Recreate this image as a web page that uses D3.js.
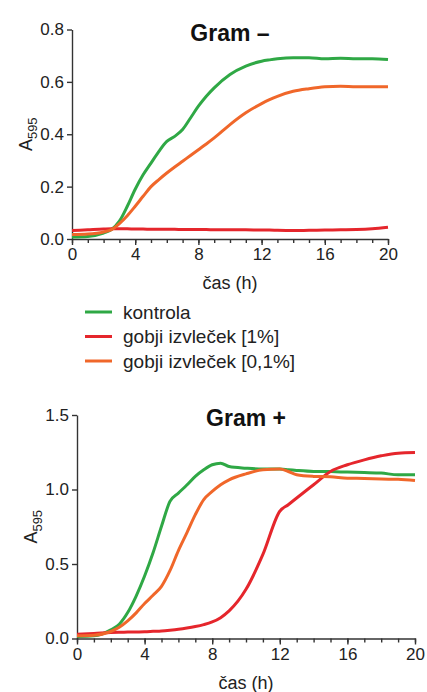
<!DOCTYPE html>
<html>
<head>
<meta charset="utf-8">
<script src="https://cdn.jsdelivr.net/npm/d3@7"></script>
<style>
  body { margin: 0; background: #fff; }
  svg { display: block; font-family: Arial, "Liberation Sans", sans-serif; }
</style>
</head>
<body>
<div id="chart"></div>
<script>
// time points (h)
var hours = [0, 1, 2, 2.5, 3, 3.5, 4, 4.5, 5, 5.5, 6, 6.5, 7, 7.5, 8, 8.5, 9, 10, 11, 12, 12.5, 13, 14, 15, 16, 17, 18, 19, 20];

// Gram -
var negKontrola = [0.008, 0.01, 0.023, 0.036, 0.068, 0.125, 0.19, 0.245, 0.29, 0.335, 0.373, 0.392, 0.418, 0.462, 0.507, 0.545, 0.577, 0.628, 0.66, 0.679, 0.684, 0.688, 0.692, 0.692, 0.688, 0.69, 0.688, 0.688, 0.685];
var negGobji1 = [0.032, 0.035, 0.038, 0.039, 0.039, 0.039, 0.038, 0.038, 0.037, 0.037, 0.037, 0.037, 0.036, 0.036, 0.036, 0.036, 0.035, 0.035, 0.035, 0.034, 0.034, 0.033, 0.032, 0.033, 0.034, 0.035, 0.036, 0.039, 0.045];
var negGobji01 = [0.017, 0.019, 0.027, 0.036, 0.059, 0.089, 0.125, 0.163, 0.2, 0.227, 0.252, 0.275, 0.297, 0.319, 0.341, 0.363, 0.386, 0.437, 0.482, 0.517, 0.532, 0.545, 0.564, 0.574, 0.581, 0.583, 0.581, 0.581, 0.581];

// Gram +
var posKontrola = [0.013, 0.018, 0.058, 0.096, 0.174, 0.285, 0.419, 0.575, 0.753, 0.92, 0.976, 1.03, 1.088, 1.132, 1.166, 1.177, 1.154, 1.143, 1.137, 1.137, 1.133, 1.128, 1.121, 1.12, 1.117, 1.114, 1.11, 1.099, 1.099];
var posGobji1 = [0.029, 0.034, 0.04, 0.042, 0.043, 0.044, 0.045, 0.048, 0.051, 0.056, 0.062, 0.07, 0.08, 0.093, 0.111, 0.14, 0.185, 0.33, 0.564, 0.854, 0.898, 0.943, 1.032, 1.121, 1.166, 1.199, 1.226, 1.244, 1.248];
var posGobji01 = [0.018, 0.022, 0.047, 0.075, 0.118, 0.172, 0.235, 0.29, 0.35, 0.455, 0.59, 0.709, 0.831, 0.932, 0.987, 1.032, 1.065, 1.105, 1.132, 1.137, 1.121, 1.099, 1.088, 1.085, 1.076, 1.074, 1.07, 1.068, 1.061];

var seriesNames = ['kontrola', 'gobji izvleček [1%]', 'gobji izvleček [0,1%]'];
var seriesColors = ['#2fa845', '#e5262c', '#f0672a'];

var xTicks = [0, 4, 8, 12, 16, 20];
var negYTicks = [0, 0.2, 0.4, 0.6, 0.8];
var posYTicks = [0, 0.5, 1.0, 1.5];

var svg = d3.select('#chart')
    .append('svg')
    .attr('width', 427)
    .attr('height', 692);

function drawPanel(opt) {
    var x = d3.scaleLinear().domain([0, 20]).range([opt.left, opt.right]);
    var y = d3.scaleLinear().domain([0, opt.yMax]).range([opt.bottom, opt.top]);
    var g = svg.append('g');

    // minor x ticks every hour
    g.append('g')
        .attr('transform', 'translate(0,' + opt.bottom + ')')
        .call(d3.axisBottom(x).tickValues(d3.range(0, 21, 1)).tickSize(4).tickFormat(''))
        .call(function(a) { a.select('.domain').remove(); });

    var xa = g.append('g')
        .attr('transform', 'translate(0,' + opt.bottom + ')')
        .call(d3.axisBottom(x).tickValues(xTicks).tickSize(6).tickPadding(3).tickSizeOuter(0));

    var ya = g.append('g')
        .attr('transform', 'translate(' + opt.left + ',0)')
        .call(d3.axisLeft(y).tickValues(opt.yTicks).tickFormat(d3.format('.1f')).tickSize(5).tickPadding(3).tickSizeOuter(0));

    [xa, ya].forEach(function(a) {
        a.selectAll('text').attr('font-size', 17).attr('fill', '#222').attr('font-family', 'Arial, "Liberation Sans", sans-serif');
    });
    g.selectAll('.domain, .tick line').attr('stroke', '#333').attr('stroke-width', 1.4);

    var line = d3.line()
        .x(function(d) { return x(d[0]); })
        .y(function(d) { return y(d[1]); })
        .curve(d3.curveMonotoneX);

    opt.series.forEach(function(vals, i) {
        g.append('path')
            .datum(hours.map(function(h, j) { return [h, vals[j]]; }))
            .attr('fill', 'none')
            .attr('stroke', seriesColors[i])
            .attr('stroke-width', 3)
            .attr('stroke-linejoin', 'round')
            .attr('d', line);
    });

    g.append('text')
        .attr('x', (opt.left + opt.right) / 2)
        .attr('y', opt.top + 11)
        .attr('text-anchor', 'middle')
        .attr('font-size', 23)
        .attr('font-weight', 'bold')
        .attr('fill', '#111')
        .text(opt.title);

    g.append('text')
        .attr('x', (opt.left + opt.right) / 2)
        .attr('y', opt.bottom + 50)
        .attr('text-anchor', 'middle')
        .attr('font-size', 18)
        .attr('fill', '#222')
        .text('čas (h)');

    var yl = g.append('text')
        .attr('transform', 'translate(' + (opt.left - 40) + ',' + ((opt.top + opt.bottom) / 2) + ') rotate(-90)')
        .attr('text-anchor', 'middle')
        .attr('font-size', 18)
        .attr('fill', '#222');
    yl.append('tspan').text('A');
    yl.append('tspan').attr('font-size', 13).attr('dy', 5).text('595');
}

drawPanel({
    left: 72, right: 388, top: 29.5, bottom: 239,
    yMax: 0.8, yTicks: negYTicks, title: 'Gram –',
    series: [negKontrola, negGobji1, negGobji01]
});

drawPanel({
    left: 77, right: 415, top: 415, bottom: 638.5,
    yMax: 1.5, yTicks: posYTicks, title: 'Gram +',
    series: [posKontrola, posGobji1, posGobji01]
});

// legend
var legend = svg.append('g');
seriesNames.forEach(function(name, i) {
    var cy = 312 + i * 24.5;
    legend.append('line')
        .attr('x1', 85).attr('x2', 112)
        .attr('y1', cy).attr('y2', cy)
        .attr('stroke', seriesColors[i])
        .attr('stroke-width', 3);
    legend.append('text')
        .attr('x', 123)
        .attr('y', cy)
        .attr('dy', '0.35em')
        .attr('font-size', 19)
        .attr('fill', '#222')
        .text(name);
});
</script>
</body>
</html>
